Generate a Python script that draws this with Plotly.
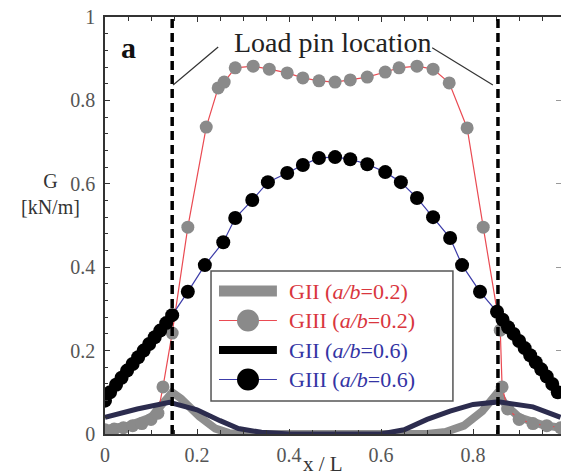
import plotly.graph_objects as go

# ---------------- data ----------------
# GII (a/b=0.2) - thick gray line
gii02_x = [0.0, 0.05, 0.10, 0.13, 0.146, 0.165, 0.205, 0.24, 0.27, 0.30, 0.40, 0.50, 0.60, 0.70, 0.74, 0.78, 0.82, 0.854, 0.87, 0.90, 0.95, 0.99]
gii02_y = [0.012, 0.02, 0.04, 0.075, 0.10, 0.085, 0.042, 0.013, 0.002, 0.0, 0.0, 0.0, 0.0, 0.0, 0.005, 0.02, 0.055, 0.10, 0.07, 0.04, 0.022, 0.015]

# GIII (a/b=0.2) - gray markers, red thin line
giii02_x = [0.0, 0.02, 0.04, 0.06, 0.08, 0.10, 0.115, 0.126, 0.146, 0.180, 0.220, 0.246, 0.259, 0.283, 0.322, 0.357,
            0.396, 0.430, 0.465, 0.500, 0.533, 0.570, 0.609, 0.639, 0.678, 0.713, 0.748, 0.787, 0.822, 0.859,
            0.863, 0.875, 0.90, 0.93, 0.96, 0.99]
giii02_y = [0.010, 0.012, 0.015, 0.020, 0.025, 0.035, 0.050, 0.113, 0.242, 0.496, 0.736, 0.830, 0.844, 0.878, 0.882, 0.875,
            0.866, 0.854, 0.847, 0.844, 0.849, 0.856, 0.868, 0.878, 0.882, 0.875, 0.842, 0.734, 0.496, 0.249,
            0.113, 0.060, 0.035, 0.025, 0.020, 0.015]

# GII (a/b=0.6) - thick dark navy line
gii06_x = [0.0, 0.07, 0.14, 0.20, 0.25, 0.29, 0.34, 0.40, 0.50, 0.60, 0.65, 0.70, 0.75, 0.80, 0.855, 0.93, 0.99]
gii06_y = [0.040, 0.060, 0.076, 0.058, 0.032, 0.013, 0.004, 0.0, 0.0, 0.0, 0.010, 0.035, 0.055, 0.071, 0.077, 0.065, 0.040]

# GIII (a/b=0.6) - black markers, blue thin line
giii06_x = [0.0, 0.011, 0.024, 0.036, 0.048, 0.060, 0.072, 0.084, 0.096, 0.108, 0.120, 0.133, 0.146,
            0.180, 0.217, 0.257, 0.283, 0.320, 0.354, 0.396, 0.430, 0.465, 0.500, 0.533, 0.570, 0.609,
            0.643, 0.678, 0.713, 0.750, 0.776, 0.815, 0.852,
            0.864, 0.876, 0.888, 0.900, 0.912, 0.924, 0.936, 0.948, 0.960, 0.972, 0.984]
giii06_y = [0.080, 0.100, 0.118, 0.135, 0.152, 0.168, 0.184, 0.200, 0.216, 0.232, 0.248, 0.266, 0.285,
            0.341, 0.405, 0.460, 0.518, 0.561, 0.604, 0.626, 0.645, 0.662, 0.664, 0.659, 0.647, 0.628,
            0.604, 0.566, 0.520, 0.470, 0.405, 0.341, 0.293,
            0.274, 0.256, 0.240, 0.223, 0.206, 0.189, 0.172, 0.155, 0.138, 0.120, 0.100]

PIN_X = [0.146, 0.854]
XTICKS = [0, 0.2, 0.4, 0.6, 0.8]
XTICKTEXT = ["0", "0.2", "0.4", "0.6", "0.8"]
YTICKS = [0, 0.2, 0.4, 0.6, 0.8, 1.0]
YTICKTEXT = ["0", "0.2", "0.4", "0.6", "0.8", "1"]

LEGEND_LABELS = ["GII (<i>a/b</i>=0.2)", "GIII (<i>a/b</i>=0.2)", "GII (<i>a/b</i>=0.6)", "GIII (<i>a/b</i>=0.6)"]

RED = "#d9363e"
BLUE = "#3434a4"
GRAY_LINE = "#8e8e8e"
GRAY_MARK = "#8a8a8a"
NAVY = "#2c2c4e"
RED_LINE = "#ea4a52"
BLUE_LINE = "#3c3ca8"
SERIF = "Liberation Serif"

fig = go.Figure()

fig.add_trace(go.Scatter(x=gii02_x, y=gii02_y, mode="lines",
                         line=dict(color=GRAY_LINE, width=8), name="GII (a/b=0.2)"))
fig.add_trace(go.Scatter(x=giii02_x, y=giii02_y, mode="lines+markers",
                         line=dict(color=RED_LINE, width=1.2),
                         marker=dict(color=GRAY_MARK, size=13), name="GIII (a/b=0.2)"))
fig.add_trace(go.Scatter(x=giii06_x, y=giii06_y, mode="lines+markers",
                         line=dict(color=BLUE_LINE, width=1.2),
                         marker=dict(color="#000000", size=14), name="GIII (a/b=0.6)"))
fig.add_trace(go.Scatter(x=gii06_x, y=gii06_y, mode="lines",
                         line=dict(color=NAVY, width=5), name="GII (a/b=0.6)"))
# invisible trace for right-side tick marks
fig.add_trace(go.Scatter(x=[0.5], y=[0.5], yaxis="y2", mode="markers",
                         marker=dict(opacity=0), showlegend=False, hoverinfo="skip"))

# dashed pin lines
for px in PIN_X:
    fig.add_shape(type="line", xref="x", yref="y", x0=px, x1=px, y0=0, y1=1,
                  line=dict(color="black", width=3.5, dash="9px,5px"))

# leader lines
fig.add_shape(type="line", xref="x", yref="y", x0=0.148, y0=0.837, x1=0.246, y1=0.928,
              line=dict(color="#333", width=1.2))
fig.add_shape(type="line", xref="x", yref="y", x0=0.711, y0=0.926, x1=0.843, y1=0.837,
              line=dict(color="#333", width=1.2))

fig.add_annotation(x=0.496, y=0.938, xref="x", yref="y", text="Load pin location",
                   showarrow=False, font=dict(family=SERIF, size=28, color="#222"))
fig.add_annotation(x=0.05, y=0.926, xref="x", yref="y", text="<b>a</b>",
                   showarrow=False, font=dict(family=SERIF, size=30, color="#111"))
fig.add_annotation(x=-0.12, y=0.576, xref="paper", yref="paper", xanchor="center", yanchor="middle",
                   text="G<br>[kN/m]", showarrow=False,
                   font=dict(family=SERIF, size=20, color="#333"))
fig.add_annotation(x=0.478, y=-0.072, xref="paper", yref="paper", xanchor="center", yanchor="middle",
                   text="x / L", showarrow=False, font=dict(family=SERIF, size=21, color="#333"))

# ---- legend box (drawn as a key in paper space) ----
LEG_X0, LEG_X1, LEG_Y0, LEG_Y1 = 0.2325, 0.763, 0.079, 0.391
ROW_Y = [0.3429, 0.2722, 0.2014, 0.1307]
SYM_X0, SYM_X1, SYM_XC, TXT_X = 0.250, 0.377, 0.3136, 0.399
fig.add_shape(type="rect", xref="paper", yref="paper", x0=LEG_X0, x1=LEG_X1, y0=LEG_Y0, y1=LEG_Y1,
              fillcolor="white", line=dict(color="#555", width=1.5), layer="above")
sym_styles = [(GRAY_LINE, 11, None), (RED_LINE, 1.2, GRAY_MARK), ("#000000", 8, None), (BLUE_LINE, 1.2, "#000000")]
text_colors = [RED, RED, BLUE, BLUE]
rx, ry = 11 / 456, 11 / 417
for ry_c, (lc, lw, mc), lab, tc in zip(ROW_Y, sym_styles, LEGEND_LABELS, text_colors):
    fig.add_shape(type="line", xref="paper", yref="paper", x0=SYM_X0, x1=SYM_X1, y0=ry_c, y1=ry_c,
                  line=dict(color=lc, width=lw), layer="above")
    if mc is not None:
        fig.add_shape(type="circle", xref="paper", yref="paper",
                      x0=SYM_XC - rx, x1=SYM_XC + rx, y0=ry_c - ry, y1=ry_c + ry,
                      fillcolor=mc, line=dict(color=mc, width=0), layer="above")
    fig.add_annotation(x=TXT_X, y=ry_c, xref="paper", yref="paper", xanchor="left", yanchor="middle",
                       text=lab, showarrow=False, font=dict(family=SERIF, size=22, color=tc))

fig.update_layout(
    width=561, height=476,
    margin=dict(l=105, r=0, t=17, b=42),
    paper_bgcolor="white", plot_bgcolor="white",
    font=dict(family=SERIF, color="#444"),
    showlegend=False,
    xaxis=dict(range=[0, 0.991], showline=True, linecolor="#333", linewidth=1.5,
               mirror="ticks", ticks="inside", ticklen=5, tickcolor="#333",
               tickvals=XTICKS, ticktext=XTICKTEXT, showgrid=False, zeroline=False,
               tickfont=dict(family=SERIF, size=20, color="#555"), ticklabelstandoff=2,
               minor=dict(dtick=0.05, ticks="inside", ticklen=4, tickcolor="#333")),
    yaxis=dict(range=[0, 1], showline=True, linecolor="#333", linewidth=1.5,
               ticks="inside", ticklen=5, tickcolor="#333",
               tickvals=YTICKS, ticktext=YTICKTEXT, showgrid=False, zeroline=False,
               tickfont=dict(family=SERIF, size=20, color="#555"), ticklabelstandoff=4,
               minor=dict(dtick=0.04, ticks="inside", ticklen=3, tickcolor="#333")),
    yaxis2=dict(range=[0, 1], overlaying="y", side="right", showline=False,
                ticks="inside", ticklen=5, tickcolor="#999", tickvals=[0.2, 0.4, 0.6, 0.8],
                showticklabels=False, showgrid=False, zeroline=False),
)

fig.write_html("out.html")
